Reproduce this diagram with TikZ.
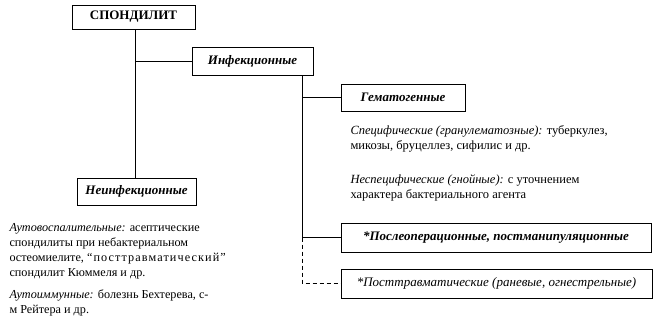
\documentclass[tikz,border=0pt]{standalone}
\usepackage{fontspec}
\setmainfont{Liberation Serif}
\begin{document}
\begin{tikzpicture}[x=1pt,y=-1pt,line width=1pt,font=\fontsize{12.5}{15}\selectfont,
box/.style={draw,inner sep=0pt,minimum height=28pt,font=\fontsize{13}{15}\selectfont\bfseries\itshape},
note/.style={inner sep=0pt,anchor=north west,align=left},
link/.style={line width=1pt},
dlink/.style={line width=0.8pt,dash pattern=on 4pt off 3pt}]
\useasboundingbox (0,0) rectangle (661,322);
% boxes
\node[box,font=\fontsize{13}{15}\selectfont\bfseries,minimum width=123pt,minimum height=24pt] (spond) at (133.5,17) {СПОНДИЛИТ};
\node[box,minimum width=121pt] (infect) at (252.5,61) {Инфекционные};
\node[box,minimum width=119pt,minimum height=27pt] (noninf) at (136.5,191.5) {Неинфекционные};
\node[box,minimum width=124pt,minimum height=27pt] (hemat) at (403,97.5) {Гематогенные};
\node[box,minimum width=310pt,minimum height=29pt] (postop) at (496,237.5) {*Послеоперационные, постманипуляционные};
\node[box,font=\fontsize{13}{15}\selectfont\itshape,minimum width=311pt,minimum height=29pt] (posttr) at (496.5,283.5) {*Посттравматические (раневые, огнестрельные)};
% notes
\node[note] (spec) at (350,125) {\textit{Специфические (гранулематозные):} туберкулез,\\микозы, бруцеллез, сифилис и др.};
\node[note] (nonspec) at (350,174) {\textit{Неспецифические (гнойные):} с уточнением\\характера бактериального  агента};
\node[note,font=\fontsize{12.2}{15}\selectfont] (autoinfl) at (9,223) {\textit{Аутовоспалительные:} асептические\\спондилиты при небактериальном\\остеомиелите, {\addfontfeature{LetterSpace=9}“посттравматический”}\\спондилит Кюммеля и др.};
\node[note,font=\fontsize{12.2}{15}\selectfont] (autoimm) at (9,289) {\textit{Аутоиммунные:} болезнь Бехтерева, с-\\м Рейтера и др.};
% connectors
\coordinate (spondbus) at ([xshift=1.5pt]spond.south);
\coordinate (infbus) at ([xshift=-11pt]infect.south east);
\draw[link] (spondbus) -- (spondbus |- noninf.north);
\draw[link] (spondbus |- infect.west) -- (infect.west);
\draw[link] (infbus) -- (infbus |- postop.west);
\foreach \n in {hemat,postop}{\draw[link] (infbus |- \n.west) -- (\n.west);}
\draw[dlink] (infbus |- postop.west) |- (posttr.west);
\end{tikzpicture}
\end{document}
